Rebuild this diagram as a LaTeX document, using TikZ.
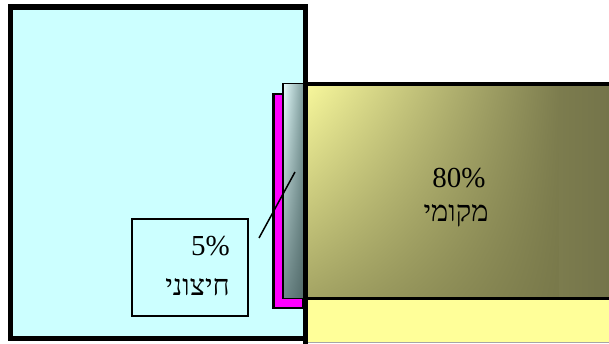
\documentclass[tikz,border=0pt]{standalone}
\usepackage{fontspec}
\setmainfont{Liberation Serif}
\newfontfamily\hebfont[Script=Hebrew]{Liberation Serif}
\TeXXeTstate=1
\usetikzlibrary{shadings}
\definecolor{cyanbg}{HTML}{CCFFFF}
\definecolor{lowyellow}{HTML}{FFFF99}
\definecolor{magbar}{HTML}{FF00FF}
\definecolor{olUL}{HTML}{F8F89C}
\definecolor{olUR}{HTML}{7C7C4E}
\definecolor{olLL}{HTML}{A4A464}
\definecolor{olLR}{HTML}{78784A}
\definecolor{olEnd}{HTML}{74744A}
\definecolor{grUL}{HTML}{E4FCFC}
\definecolor{grUR}{HTML}{7E9C9C}
\definecolor{grLL}{HTML}{6E8888}
\definecolor{grLR}{HTML}{526A6A}
\tikzset{
  thickframe/.style={draw=black, line width=5.5pt},
  barframe/.style={draw=black, line width=2.5pt},
  thinframe/.style={draw=black, line width=1.4pt},
  bigtext/.style={inner sep=0pt, font=\fontsize{29}{33}\selectfont},
  hebtext/.style={inner sep=0pt, font=\hebfont\fontsize{29}{33}\selectfont},
}
\begin{document}
\begin{tikzpicture}[x=1pt,y=-1pt]
\useasboundingbox (0,0) rectangle (609,344);
% lower light yellow box
\fill[lowyellow] (306,299) rectangle (609,342.5);
\draw[gray!70, line width=1pt] (306,342.5) -- (609,342.5);
% olive shaded box
\shade[upper left=olUL, upper right=olUR, lower left=olLL, lower right=olLR] (306,84) rectangle (560,298.5);
\shade[left color=olUR, right color=olEnd] (559.5,84) rectangle (609,298.5);
\draw[black, line width=4pt] (303,84) -- (609,84);
\draw[black, line width=2.5pt] (303,298.5) -- (609,298.5);
% cyan box
\filldraw[fill=cyanbg, thickframe] (10.5,7) rectangle (305.5,338.5);
% magenta bar
\filldraw[fill=magbar, barframe] (273.5,94) rectangle (303,308);
% gray shaded bar
\shade[upper left=grUL, upper right=grUR, lower left=grLL, lower right=grLR] (283.2,83.5) rectangle (303.5,298.5);
\draw[black, line width=1.5pt] (283.2,83.5) rectangle (303.5,298.5);
\draw[black, line width=4.5pt] (305.5,84) -- (305.5,344);
% small box
\node[thinframe, fill=cyanbg, minimum width=116pt, minimum height=97pt, inner sep=0pt] (ext) at (190,267.5) {};
\coordinate (lineA) at (259,238);
\coordinate (lineB) at (295,172);
\draw[black, line width=1.5pt] (lineA) -- (lineB);
% texts
\node[bigtext, anchor=base east] (p5) at (230,255) {5\%};
\node[hebtext, anchor=base east] (h5) at (230,295) {\beginR חיצוני\endR};
\node[bigtext, anchor=base] (p80) at (459,188) {80\%};
\node[hebtext, anchor=base] (h80) at (456,222) {\beginR מקומי\endR};
\end{tikzpicture}
\end{document}
